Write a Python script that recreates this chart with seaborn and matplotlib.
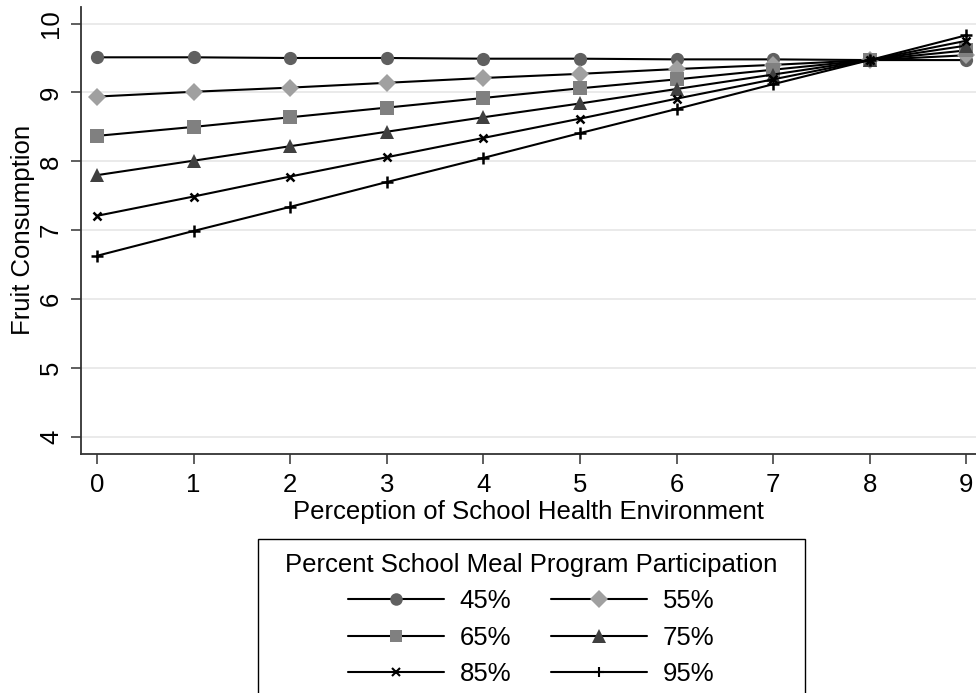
import matplotlib
matplotlib.use("Agg")
import matplotlib.pyplot as plt
from matplotlib.lines import Line2D
from matplotlib.patches import Rectangle
import seaborn as sns
import pandas as pd

# ---- data ----
perception = [0, 1, 2, 3, 4, 5, 6, 7, 8, 9]
groups = ["45%", "55%", "65%", "75%", "85%", "95%"]
y45 = [9.51, 9.51, 9.50, 9.50, 9.49, 9.49, 9.48, 9.48, 9.47, 9.47]
y55 = [8.94, 9.01, 9.07, 9.14, 9.21, 9.27, 9.34, 9.40, 9.47, 9.54]
y65 = [8.37, 8.50, 8.64, 8.78, 8.92, 9.06, 9.19, 9.33, 9.47, 9.61]
y75 = [7.80, 8.01, 8.22, 8.43, 8.64, 8.84, 9.05, 9.26, 9.47, 9.68]
y85 = [7.21, 7.49, 7.78, 8.06, 8.34, 8.62, 8.91, 9.19, 9.47, 9.75]
y95 = [6.63, 6.99, 7.34, 7.70, 8.05, 8.41, 8.76, 9.12, 9.47, 9.83]
series = [y45, y55, y65, y75, y85, y95]
yticks = [4, 5, 6, 7, 8, 9, 10]
xticks = perception

marker_colors = {"45%": "#606060", "55%": "#a0a0a0", "65%": "#808080",
                 "75%": "#404040", "85%": "#000000", "95%": "#000000"}
marker_shapes = {"45%": "o", "55%": "D", "65%": "s", "75%": "^", "85%": "x", "95%": "+"}
marker_sizes = {"45%": 9.5, "55%": 9.5, "65%": 9.5, "75%": 10.5, "85%": 6, "95%": 8}

rows = []
for g, ys in zip(groups, series):
    for xv, yv in zip(perception, ys):
        rows.append({"x": xv, "y": yv, "group": g})
df = pd.DataFrame(rows)

sns.set_theme(style="white")
plt.rcParams["font.family"] = ["Liberation Sans", "DejaVu Sans"]
plt.rcParams["text.color"] = "black"
plt.rcParams["axes.labelcolor"] = "black"
plt.rcParams["xtick.color"] = "black"
plt.rcParams["ytick.color"] = "black"

FS = 18.5
W, H = 976, 693

fig = plt.figure(figsize=(9.76, 6.93), dpi=100)
ax = fig.add_axes([81 / W, 1 - 453.7 / H, 1 - 81 / W, (453.7 - 7) / H])

ax.grid(False)
for yt in yticks:
    ax.axhline(yt, color="#e8e8e8", lw=1.3, zorder=0)

for i, g in enumerate(groups):
    sub = df[df["group"] == g]
    sns.lineplot(data=sub, x="x", y="y", ax=ax, color="black", lw=1.5,
                 marker=marker_shapes[g], markersize=marker_sizes[g],
                 markerfacecolor=marker_colors[g], markeredgecolor=marker_colors[g],
                 markeredgewidth=1.8 if g in ("85%", "95%") else 0,
                 legend=False, zorder=2 + i)

ax.set_xlim(-0.166, 9.1)
ax.set_ylim(3.758, 10.24)
ax.set_xticks(xticks)
ax.set_yticks(yticks)
ax.set_xticklabels([str(v) for v in xticks], fontsize=FS)
ax.set_yticklabels([str(v) for v in yticks], fontsize=FS, rotation=90, va="center")

for s in ["top", "right"]:
    ax.spines[s].set_visible(False)
for s in ["left", "bottom"]:
    ax.spines[s].set_color("#333333")
    ax.spines[s].set_linewidth(1.3)
ax.tick_params(axis="both", which="major", direction="out", length=7, width=1.1,
               color="#333333", left=True, bottom=True)
ax.tick_params(axis="x", pad=7)
ax.tick_params(axis="y", pad=6)

ax.set_xlabel("Perception of School Health Environment", fontsize=FS, labelpad=2)
ax.set_ylabel("Fruit Consumption", fontsize=FS, labelpad=3)

# row-major order in the legend: 45 55 / 65 75 / 85 95
order = ["45%", "65%", "85%", "55%", "75%", "95%"]
handles = []
for g in order:
    handles.append(Line2D([0], [0], color="black", lw=1.5, marker=marker_shapes[g],
                          markersize=marker_sizes[g] * 0.95,
                          markerfacecolor=marker_colors[g], markeredgecolor=marker_colors[g],
                          markeredgewidth=1.5 if g in ("85%", "95%") else 0))
leg = fig.legend(handles=handles, labels=order, ncol=2,
                 title="Percent School Meal Program Participation",
                 loc="upper center", bbox_to_anchor=(531 / W, 1 - 553 / H),
                 frameon=False, borderaxespad=0, borderpad=0,
                 fontsize=FS, title_fontsize=FS, handlelength=3.75, handletextpad=0.6,
                 columnspacing=1.55, labelspacing=0.48)

# legend frame (bottom edge runs off the figure as in the reference)
fig.add_artist(Rectangle((257.7 / W, -0.05), (805 - 257.7) / W, (1 - 539 / H) + 0.05,
                         transform=fig.transFigure, fill=False, edgecolor="black",
                         linewidth=1.0, zorder=1))

fig.savefig("out.png", dpi=100)
